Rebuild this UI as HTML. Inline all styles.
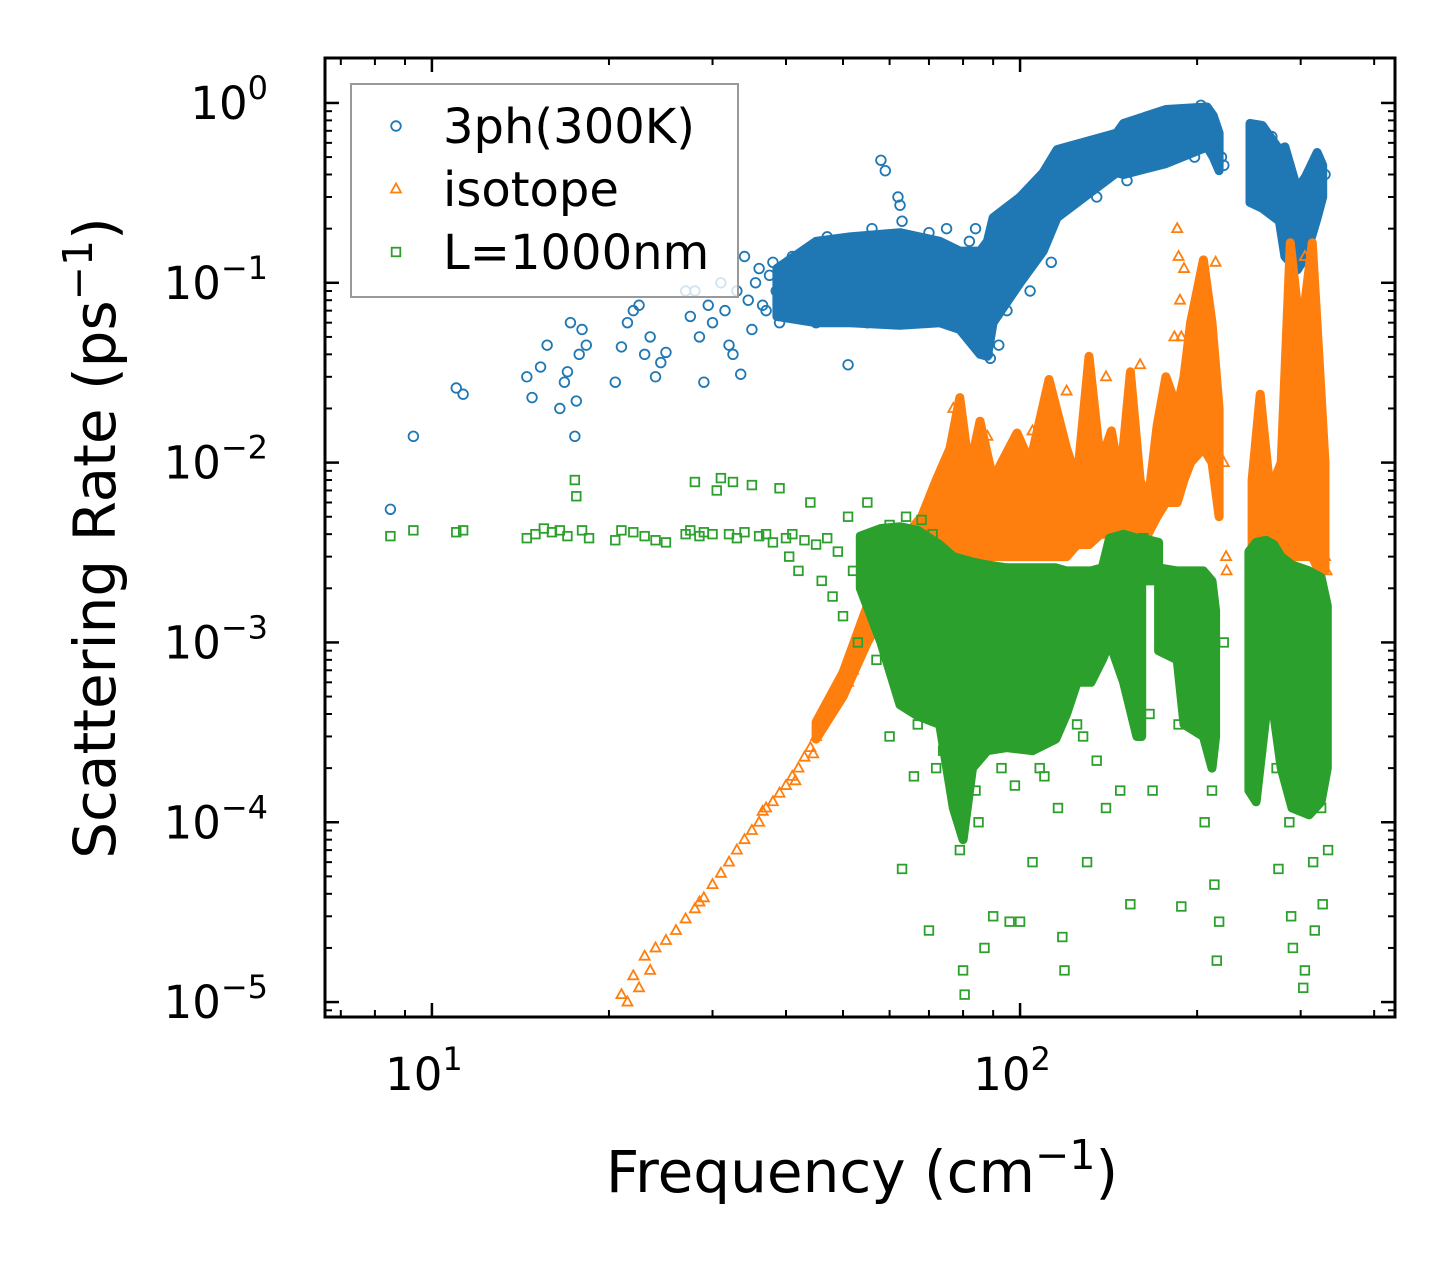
<!DOCTYPE html>
<html><head><meta charset="utf-8">
<style>
html,body{margin:0;padding:0;background:#fff;}
svg{display:block;font-family:"DejaVu Sans","Liberation Sans",sans-serif;}
</style></head>
<body>
<svg id="chart" width="1455" height="1265" viewBox="0 0 1455 1265" xmlns="http://www.w3.org/2000/svg">
<g id="marks"></g>
<g id="axes"></g>
<g id="legend"></g>
<text x="862" y="1192" font-size="58" text-anchor="middle">Frequency (cm<tspan dy="-23" font-size="41">−1</tspan><tspan dy="23">)</tspan></text>
<text transform="translate(115,538) rotate(-90)" font-size="58" text-anchor="middle">Scattering Rate (ps<tspan dy="-23" font-size="41">−1</tspan><tspan dy="23">)</tspan></text>
</svg>
<script>
const xTickValues=[10,100];
const xTickLabels=["10","10"];
const xTickExps=["1","2"];
const yTickValues=[1,0.1,0.01,0.001,0.0001,0.00001];
const yTickExps=["0","−1","−2","−3","−4","−5"];
const seriesNames=["3ph(300K)","isotope","L=1000nm"];

// dense-region envelopes: [frequency, low rate, high rate]; null separates segments
const band3ph=[[38.6,0.065,0.12],[45,0.06,0.17],[51.4,0.06,0.18],[62.5,0.058,0.19],[73,0.06,0.17],[79,0.055,0.15],[85.5,0.04,0.15],[88,0.039,0.17],[90,0.06,0.23],[100,0.1,0.3],[109.5,0.15,0.41],[115.6,0.23,0.55],[146,0.41,0.68],[150,0.4,0.77],[177,0.46,0.92],[208,0.57,0.95],[213,0.5,0.85],[218,0.42,0.68],null,[246,0.28,0.77],[258,0.26,0.75],[276,0.22,0.55],[282,0.14,0.57],[296,0.118,0.33],[306,0.14,0.39],[320,0.23,0.53],[327,0.3,0.45]];
const bandIso=[[45,2.9e-4,3.6e-4],[50,5e-4,6.8e-4],[55,1e-3,1.6e-3],[62,2e-3,3.5e-3],[68,2.8e-3,5e-3],[72,3e-3,8e-3],[76,3e-3,1.2e-2],[79,3e-3,2.3e-2],[82,3e-3,9e-3],[85.5,3e-3,1.7e-2],[90,3e-3,8e-3],[93,3e-3,1e-2],[98.8,3e-3,1.46e-2],[104,3e-3,1e-2],[112,3e-3,2.9e-2],[120,3e-3,1.2e-2],[125,3.5e-3,8e-3],[131,3.5e-3,3.9e-2],[137,4e-3,1e-2],[143,4e-3,1.5e-2],[148,4e-3,8e-3],[154,4e-3,3.2e-2],[160,4e-3,8e-3],[165,4e-3,6e-3],[171,5e-3,1.6e-2],[177,6e-3,3e-2],[185,6e-3,2e-2],[190,8e-3,3e-2],[195,1e-2,6e-2],[205,1.2e-2,1.34e-1],[212,1e-2,6e-2],[218,5e-3,2e-2],null,[248,3e-3,8e-3],[256,4e-3,2.4e-2],[266,3e-3,7e-3],[278,2.5e-3,1e-2],[288,3e-3,1.67e-1],[300,3e-3,5e-2],[314,3e-3,1.67e-1],[322,2.5e-3,4e-2],[330,2.5e-3,1e-2]];
const bandL=[[53.5,2e-3,3.9e-3],[58,1e-3,4.3e-3],[62.5,4.5e-4,4.4e-3],[67,3.9e-4,4.2e-3],[73,3.5e-4,3.5e-3],[77,1.2e-4,3e-3],[80,8e-5,2.9e-3],[83,2e-4,2.8e-3],[88,2.5e-4,2.7e-3],[95,2.6e-4,2.6e-3],[105,2.5e-4,2.6e-3],[115,2.9e-4,2.6e-3],[120,4e-4,2.5e-3],[125,6e-4,2.5e-3],[132,6e-4,2.5e-3],[138,8e-4,2.6e-3],[142,1e-3,3.8e-3],[150,6e-4,4e-3],[158,3e-4,3.8e-3],[161,3e-4,3.5e-3],null,[161,2.2e-3,3.8e-3],[172,2.2e-3,3.6e-3],null,[172,9e-4,2.6e-3],[185,8e-4,2.5e-3],[190,3.5e-4,2.5e-3],[205,3e-4,2.5e-3],[212,2e-4,2.2e-3],[215,3e-4,1.5e-3],null,[245,1.5e-4,3.2e-3],[252,1.3e-4,3.6e-3],[262,4e-4,3.7e-3],[270,4e-4,3.5e-3],[278,2e-4,3e-3],[290,1.2e-4,2.7e-3],[310,1.1e-4,2.5e-3],[325,1.3e-4,2.3e-3],[333,2e-4,1.6e-3]];

const phonon3=[[8.5,0.0055],[9.3,0.014],[11,0.026],[11.3,0.024],[14.5,0.03],[14.8,0.023],[15.3,0.034],[15.7,0.045],[16.5,0.02],[16.8,0.028],[17,0.032],[17.2,0.06],[17.5,0.014],[17.6,0.022],[17.8,0.04],[18,0.055],[18.3,0.045],[20.5,0.028],[21,0.044],[21.5,0.06],[22,0.07],[22.5,0.075],[23,0.04],[23.5,0.05],[24,0.03],[24.5,0.036],[25,0.041],[27,0.09],[27.5,0.065],[28,0.09],[28.5,0.05],[29,0.028],[29.5,0.075],[30,0.06],[31,0.1],[31.5,0.07],[32,0.045],[32.5,0.04],[33,0.09],[33.5,0.031],[34,0.14],[34.5,0.08],[35,0.055],[35.5,0.1],[36,0.12],[36.5,0.075],[37,0.07],[37.5,0.11],[38,0.13],[38.5,0.09],[39,0.06],[39.5,0.085],[40,0.11],[41,0.14],[42,0.08],[43,0.15],[44,0.1],[45,0.06],[46,0.12],[47,0.09],[48,0.14],[49,0.07],[50,0.11],[51,0.035],[52,0.15],[53,0.09],[54,0.12],[55,0.06],[56,0.2],[57,0.1],[58,0.48],[59,0.42],[60,0.13],[61,0.08],[62,0.3],[62.5,0.27],[63,0.22],[64,0.15],[65,0.1],[66,0.07],[67,0.17],[68,0.12],[70,0.14],[72,0.08],[74,0.11],[76,0.07],[78,0.13],[80,0.06],[82,0.09],[84,0.2],[85,0.05],[86,0.12],[88,0.04],[89,0.038],[90,0.08],[92,0.15],[94,0.1],[96,0.2],[98,0.15],[100,0.25],[105,0.28],[110,0.28],[120,0.4],[130,0.35],[140,0.5],[150,0.55],[160,0.6],[170,0.7],[180,0.6],[190,0.8],[200,0.9],[203,0.97],[210,0.7],[215,0.6],[220,0.5],[222,0.45],[268,0.65],[272,0.5],[280,0.35],[290,0.3],[300,0.2],[305,0.15],[310,0.13],[320,0.45],[330,0.4],[92,0.045],[95,0.07],[104,0.09],[108,0.33],[113,0.13],[135,0.3],[152,0.37],[165,0.72],[198,0.5],[60,0.16],[70,0.19],[47,0.18],[75,0.2],[82,0.17]];

const isotope=[[21,1.1e-5],[21.5,1.0e-5],[22,1.4e-5],[22.5,1.2e-5],[23,1.8e-5],[23.5,1.5e-5],[24,2e-5],[25,2.2e-5],[26,2.5e-5],[27,2.9e-5],[28,3.3e-5],[28.5,3.6e-5],[29,3.8e-5],[30,4.5e-5],[31,5.2e-5],[32,6e-5],[33,7e-5],[34,8e-5],[35,9e-5],[36,1e-4],[37,1.2e-4],[38,1.3e-4],[39,1.45e-4],[40,1.6e-4],[41,1.8e-4],[42,2e-4],[43,2.3e-4],[44,2.6e-4],[45,3e-4],[46,3.5e-4],[47,4e-4],[48,4.5e-4],[49,5e-4],[50,5.5e-4],[51,6e-4],[52,7e-4],[53,8.5e-4],[54,1e-3],[55,1.2e-3],[56,1.4e-3],[57,1.7e-3],[58,2e-3],[59,2.2e-3],[60,2.5e-3],[62,2.8e-3],[63,3e-3],[65,3.2e-3],[66,3.5e-3],[68,3.7e-3],[70,4e-3],[77,2e-2],[88,1.4e-2],[105,1.5e-2],[120,2.5e-2],[140,3e-2],[160,3.5e-2],[183,5e-2],[185,2e-1],[186,1.4e-1],[187,8e-2],[188,5e-2],[190,1.2e-1],[192,2.5e-2],[195,4e-2],[200,3e-2],[215,1.3e-1],[222,1e-2],[224,3e-3],[224.5,2.5e-3],[265,5e-3],[305,1.4e-1],[330,3e-3],[332,2.5e-3],[36.5,1.15e-4],[41.5,1.7e-4],[44.5,2.4e-4],[47.5,4.6e-4],[51.5,7.5e-4]];

const boundary=[[8.5,3.9e-3],[9.3,4.2e-3],[11,4.1e-3],[11.3,4.2e-3],[14.5,3.8e-3],[15,4e-3],[15.5,4.3e-3],[16,4.1e-3],[16.5,4.2e-3],[17,3.9e-3],[17.5,8e-3],[17.6,6.5e-3],[18,4.2e-3],[18.5,3.8e-3],[20.5,3.7e-3],[21,4.2e-3],[22,4.1e-3],[23,3.9e-3],[24,3.7e-3],[25,3.6e-3],[27,4e-3],[27.5,4.2e-3],[28,7.8e-3],[28.5,3.9e-3],[29,4.1e-3],[30,4e-3],[30.5,7e-3],[31,8.2e-3],[32,4e-3],[32.5,7.8e-3],[33,3.8e-3],[34,4.1e-3],[35,7.5e-3],[36,3.9e-3],[37,4e-3],[38,3.6e-3],[39,7.2e-3],[40,3.8e-3],[40.5,3e-3],[41,4e-3],[42,2.5e-3],[43,3.7e-3],[44,6e-3],[45,3.5e-3],[46,2.2e-3],[47,3.8e-3],[48,1.8e-3],[49,3.2e-3],[50,1.4e-3],[51,5e-3],[52,2.5e-3],[53,1e-3],[54,3e-3],[55,6e-3],[56,2e-3],[57,8e-4],[58,3.5e-3],[59,1.5e-3],[60,3e-4],[61,2.5e-3],[63,5.5e-5],[65,7e-4],[67,3.5e-4],[70,2.5e-5],[71,4e-3],[74,2.5e-4],[77,1.5e-4],[79,7e-5],[80,1.5e-5],[80.5,1.1e-5],[85,1e-4],[87,2e-5],[90,3e-5],[93,2e-4],[96,2.8e-5],[100,2.8e-5],[105,6e-5],[108,2e-4],[116,1.2e-4],[118,2.3e-5],[119,1.5e-5],[128,3e-4],[130,6e-5],[140,1.2e-4],[154,3.5e-5],[162,3.8e-3],[166,4e-4],[168,1.5e-4],[186,3.5e-4],[188,3.4e-5],[206,1e-4],[212,1.5e-4],[214,4.5e-5],[216,1.7e-5],[218,2.8e-5],[222,1e-3],[273,2e-4],[275,5.5e-5],[285,3e-4],[287,1e-4],[289,3e-5],[291,2e-5],[301,1.5e-4],[303,1.2e-5],[305,1.5e-5],[315,6e-5],[317,2.5e-5],[325,1.2e-4],[327,3.5e-5],[334,7e-5],[66,1.8e-4],[72,2e-4],[84,1.5e-4],[98,1.6e-4],[110,1.8e-4],[125,3.5e-4],[135,2.2e-4],[148,1.5e-4],[60,4.5e-3],[64,5e-3],[68,4.8e-3]];

const PL=325,PR=1395,PT=58,PB=1017;
const XMIN=Math.log10(6.58),XMAX=Math.log10(434);
const YMIN=-5.083,YMAX=0.25;
function xs(v){return PL+(Math.log10(v)-XMIN)/(XMAX-XMIN)*(PR-PL);}
function ys(v){return PB-(Math.log10(v)-YMIN)/(YMAX-YMIN)*(PB-PT);}
const NS="http://www.w3.org/2000/svg";
function mk(tag,attrs,parent){const e=document.createElementNS(NS,tag);for(const k in attrs)e.setAttribute(k,attrs[k]);parent.appendChild(e);return e;}

const marks=document.getElementById('marks');
const cols=["#1f77b4","#ff7f0e","#2ca02c"];
function circle(x,y,p){return mk('circle',{cx:x,cy:y,r:4.8,fill:'none',stroke:cols[0],'stroke-width':1.8},p);}
function tri(x,y,p){return mk('polygon',{points:`${x},${y-5.5} ${x-5},${y+3.5} ${x+5},${y+3.5}`,fill:'none',stroke:cols[1],'stroke-width':1.8},p);}
function sq(x,y,p){return mk('rect',{x:x-4.3,y:y-4.3,width:8.6,height:8.6,fill:'none',stroke:cols[2],'stroke-width':1.8},p);}

function drawBand(band,col,parent,name){
  let segs=[[]];
  band.forEach(d=>{if(d===null)segs.push([]);else segs[segs.length-1].push(d);});
  segs.forEach(s=>{if(s.length<2)return;
    let top=s.map(d=>xs(d[0]).toFixed(1)+','+ys(d[2]).toFixed(1));
    let bot=s.slice().reverse().map(d=>xs(d[0]).toFixed(1)+','+ys(d[1]).toFixed(1));
    const p=mk('polygon',{points:top.concat(bot).join(' '),fill:col,stroke:col,'stroke-width':9,'stroke-linejoin':'round'},parent);
    
    
  });
}

const g1=mk('g',{},marks);


drawBand(band3ph,cols[0],g1,'dense-band-3ph');
phonon3.forEach(d=>{const e=circle(xs(d[0]),ys(d[1]),g1);

});
const g2=mk('g',{},marks);


drawBand(bandIso,cols[1],g2,'dense-band-isotope');
isotope.forEach(d=>{const e=tri(xs(d[0]),ys(d[1]),g2);

});
const g3=mk('g',{},marks);


drawBand(bandL,cols[2],g3,'dense-band-boundary');
boundary.forEach(d=>{const e=sq(xs(d[0]),ys(d[1]),g3);

});

const ax=document.getElementById('axes');
const frame=mk('rect',{x:PL,y:PT,width:PR-PL,height:PB-PT,fill:'none',stroke:'#000','stroke-width':3},ax);


for(let d=1;d<=1000;d*=10){for(let m=1;m<10;m++){const v=d*m;if(Math.log10(v)<XMIN||Math.log10(v)>XMAX)continue;
const x=xs(v);const L=m==1?14:7;
mk('line',{x1:x,y1:PB,x2:x,y2:PB-L,stroke:'#000','stroke-width':m==1?2.5:2},ax);
mk('line',{x1:x,y1:PT,x2:x,y2:PT+L,stroke:'#000','stroke-width':m==1?2.5:2},ax);}}
xTickValues.forEach((v,i)=>{const t=mk('text',{x:xs(v)-8,y:1090,'font-size':45,'text-anchor':'middle'},ax);


t.innerHTML=xTickLabels[i]+`<tspan dy="-20" font-size="32">${xTickExps[i]}</tspan>`;});
for(let e=-6;e<=0;e++){for(let m=1;m<10;m++){const v=m*Math.pow(10,e);const lv=Math.log10(v);if(lv<YMIN||lv>YMAX)continue;
const y=ys(v);const L=m==1?14:7;
mk('line',{x1:PL,y1:y,x2:PL+L,y2:y,stroke:'#000','stroke-width':m==1?2.5:2},ax);
mk('line',{x1:PR,y1:y,x2:PR-L,y2:y,stroke:'#000','stroke-width':m==1?2.5:2},ax);}}
yTickValues.forEach((v,i)=>{const t=mk('text',{x:268,y:ys(v)+16,'font-size':45,'text-anchor':'end'},ax);


t.innerHTML=`10<tspan dy="-20" font-size="32">${yTickExps[i]}</tspan>`;});

const lg=document.getElementById('legend');
const lbox=mk('rect',{x:351,y:84,width:387,height:213,fill:'rgba(255,255,255,0.8)',stroke:'#999','stroke-width':2},lg);


const ly=[126,189,252];
const mfn=[circle,tri,sq];
seriesNames.forEach((n,i)=>{const ent=mk('g',{},lg);


mfn[i](396,ly[i],ent);
const t=mk('text',{x:443,y:ly[i]+17,'font-size':48},ent);t.textContent=n;});
</script>
</body></html>
